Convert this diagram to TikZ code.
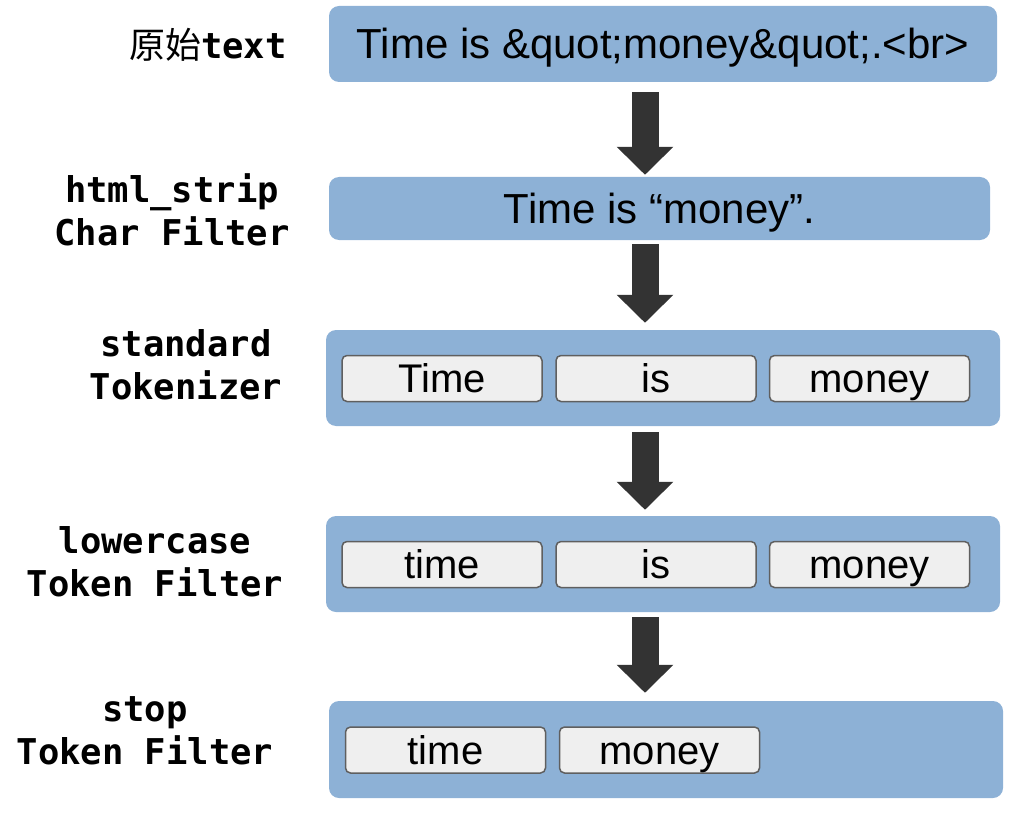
\documentclass[tikz,border=0pt]{standalone}
\usepackage{fontspec}
\setmainfont{Liberation Sans}
\newfontfamily\labfont{DejaVu Sans Mono}
\newfontfamily\cjkfont{Noto Sans CJK SC}
\usetikzlibrary{arrows.meta}
\definecolor{boxblue}{RGB}{141,177,214}
\definecolor{tokfill}{RGB}{239,239,239}
\definecolor{tokdraw}{RGB}{95,95,95}
\definecolor{arrowgray}{RGB}{51,51,51}
\tikzset{
  bigbox/.style={fill=boxblue, draw=none, rounded corners=10pt, inner sep=0pt},
  bigtext/.style={font=\fontsize{42}{42}\selectfont, text height=30pt, text depth=0pt},
  tokbox/.style={fill=tokfill, draw=tokdraw, line width=1.5pt, rounded corners=5pt,
    minimum width=200pt, minimum height=46pt, inner sep=0pt,
    font=\fontsize{40}{40}\selectfont, text height=28.6pt, text depth=0pt},
  lab/.style={align=center, font=\labfont\bfseries\fontsize{35.5}{43}\selectfont, inner sep=0pt},
  flowarrow/.style={draw=arrowgray, line width=27pt,
    -{Triangle[width=55pt,length=28pt]}, arrowgray},
}
\begin{document}
\begin{tikzpicture}[x=1pt,y=-1pt]
\useasboundingbox (0,0) rectangle (1024,818);
% big boxes
\node[bigbox, bigtext, minimum width=668pt, minimum height=76pt] (b1) at (663,44) {Time is \&quot;money\&quot;.<br>};
\node[bigbox, bigtext, minimum width=661pt, minimum height=63pt] (b2) at (659.5,208.5) {Time is “money”.};
\node[bigbox, minimum width=674pt, minimum height=96pt] (b3) at (663,378) {};
\node[bigbox, minimum width=674pt, minimum height=96pt] (b4) at (663,564) {};
\node[bigbox, minimum width=674pt, minimum height=97pt] (b5) at (666,749.5) {};
% tokens
\node[tokbox] (t31) at (442,378.5) {Time};
\node[tokbox] (t32) at (656,378.5) {is};
\node[tokbox] (t33) at (869.5,378.5) {money};
\node[tokbox] (t41) at (442,564.5) {time};
\node[tokbox] (t42) at (656,564.5) {is};
\node[tokbox] (t43) at (869.5,564.5) {money};
\node[tokbox] (t51) at (445.5,750) {time};
\node[tokbox] (t52) at (659.5,750) {money};
% labels
\node[lab] (l1) at (208,45) {{\cjkfont\mdseries\fontsize{36}{43}\selectfont 原始}text};
\node[lab] (l2) at (172,209.5) {html\_strip\\Char Filter};
\node[lab] (l3) at (186,365) {standard\\Tokenizer};
\node[lab] (l4) at (155,561.5) {lowercase\\Token Filter};
\node[lab] (l5) at (145,731) {stop\\Token Filter};
% arrows
\coordinate (ax) at (645,0);
\draw[flowarrow] ([yshift=-10pt]b1.south -| ax) -- ([yshift=2pt]b2.north -| ax);
\draw[flowarrow] ([yshift=-4pt]b2.south -| ax) -- ([yshift=7pt]b3.north -| ax);
\draw[flowarrow] ([yshift=-6pt]b3.south -| ax) -- ([yshift=6pt]b4.north -| ax);
\draw[flowarrow] ([yshift=-5pt]b4.south -| ax) -- ([yshift=8pt]b5.north -| ax);
\end{tikzpicture}
\end{document}
